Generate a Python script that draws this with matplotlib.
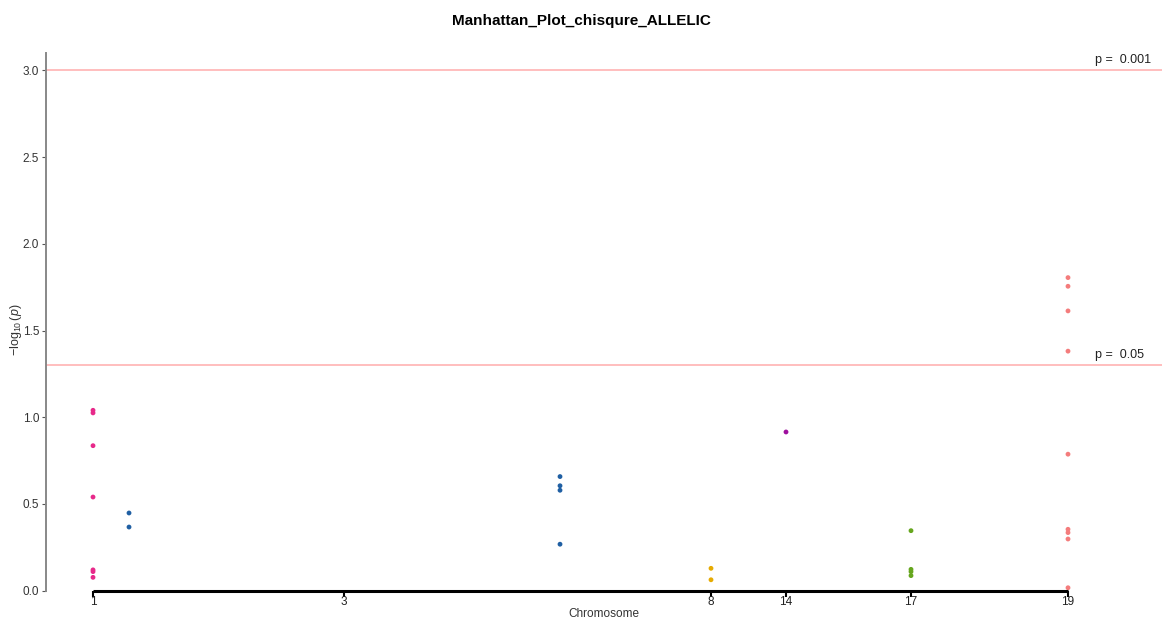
import matplotlib
matplotlib.use("Agg")
import matplotlib.pyplot as plt

plt.rcParams["font.family"] = ["Liberation Sans", "DejaVu Sans"]
plt.rcParams["mathtext.fontset"] = "custom"
plt.rcParams["mathtext.rm"] = "Liberation Sans"
plt.rcParams["mathtext.it"] = "Liberation Sans:italic"

# chromosome label, colour, positions (cumulative, arbitrary units) and -log10(p)
chromosomes = ["1", "3", "8", "14", "17", "19"]
chrom_colors = ["#E7298A", "#1F5FA3", "#E6AB02", "#9E0F9E", "#66A61E", "#F47C7C"]
chrom_ticks = [0, 251, 618, 693, 818, 975]

chr1_pos = [0, 0, 0, 0, 0, 0, 0]
chr1_logp = [1.04, 1.025, 0.836, 0.54, 0.12, 0.11, 0.077]
chr3_pos = [36, 36, 467, 467, 467, 467]
chr3_logp = [0.448, 0.367, 0.658, 0.605, 0.579, 0.268]
chr8_pos = [618, 618]
chr8_logp = [0.129, 0.063]
chr14_pos = [693]
chr14_logp = [0.915]
chr17_pos = [818, 818, 818, 818]
chr17_logp = [0.346, 0.123, 0.11, 0.087]
chr19_pos = [975, 975, 975, 975, 975, 975, 975, 975, 975]
chr19_logp = [1.805, 1.755, 1.613, 1.381, 0.787, 0.354, 0.335, 0.298, 0.017]

thresholds = [0.05, 0.001]
threshold_logp = [1.301, 3.0]

series = [
    (chr1_pos, chr1_logp),
    (chr3_pos, chr3_logp),
    (chr8_pos, chr8_logp),
    (chr14_pos, chr14_logp),
    (chr17_pos, chr17_logp),
    (chr19_pos, chr19_logp),
]

fig = plt.figure(figsize=(11.62, 6.21), dpi=100)
ax = fig.add_axes([0.0396, 0.0488, 0.9604, 0.8659])

for (pos, logp), color in zip(series, chrom_colors):
    ax.scatter(pos, logp, s=12, color=color, edgecolors="none", zorder=3)

for p, lp in zip(thresholds, threshold_logp):
    ax.axhline(lp, color="#FFB3B3", linewidth=1.2, zorder=1)
    ax.text(1002, lp + 0.025, f"p =  {p}", fontsize=9, color="#222222",
            ha="left", va="bottom")

ax.set_xlim(-47, 1069)
ax.set_ylim(0, 3.1)

# x axis drawn only between the first and last chromosome tick
ax.plot([chrom_ticks[0], chrom_ticks[-1]], [0, 0], color="black", linewidth=2.2,
        solid_capstyle="butt", clip_on=False, zorder=4)
ax.set_xticks(chrom_ticks)
ax.set_xticklabels(chromosomes, fontsize=8.5, color="#222222")
ax.tick_params(axis="x", length=4, width=1.5, color="black", pad=0)

ax.set_yticks([0.0, 0.5, 1.0, 1.5, 2.0, 2.5, 3.0])
ax.set_yticklabels(["0.0", "0.5", "1.0", "1.5", "2.0", "2.5", "3.0"], fontsize=8.5, color="#333333")
ax.tick_params(axis="y", length=3, width=0.8, color="#555555", pad=2)

for side in ["top", "right", "bottom"]:
    ax.spines[side].set_visible(False)
ax.spines["left"].set_color("#888888")
ax.spines["left"].set_linewidth(1.4)

ax.set_xlabel("Chromosome", fontsize=8.5, color="#333333")
ax.xaxis.set_label_coords(0.5, -0.032)
ax.set_ylabel(r"$-\log_{10}(p)$", fontsize=9, color="#333333")
ax.yaxis.set_label_coords(-0.0195, 0.485)
fig.suptitle("Manhattan_Plot_chisqure_ALLELIC", fontsize=11, fontweight="bold",
             x=0.5, y=0.978)

fig.savefig("out.png", dpi=100)
